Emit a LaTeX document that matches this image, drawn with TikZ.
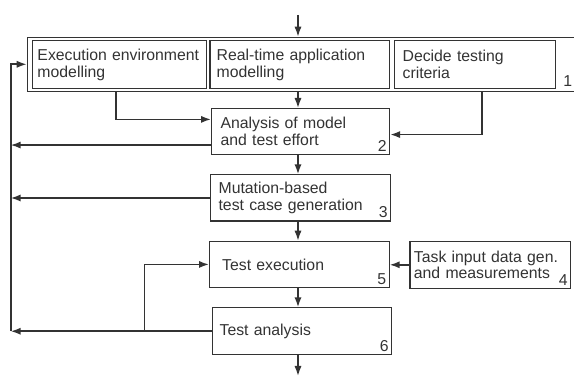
\documentclass[tikz,border=0pt]{standalone}
\usepackage{fontspec}
\setmainfont{Liberation Sans}
\usepackage{tikz}
\usetikzlibrary{calc,arrows.meta}

\tikzset{
  stage/.style={draw,anchor=north west,align=left,inner ysep=0pt,line width=0.6pt},
  num/.style={label={[anchor=south east,inner sep=1.6pt]south east:#1}},
  flow/.style={->,line width=0.8pt}
}

\begin{document}
\begin{tikzpicture}[>={Latex[length=5pt,width=3.6pt]},x=0.5pt,y=-0.5pt,
    black!80,font=\fontsize{7.9pt}{8.4pt}\selectfont]
  \useasboundingbox (0,0) rectangle (574,383);
  % modelling step, three parts in one frame
  \node[draw,line width=0.6pt,anchor=north west,inner sep=0pt,minimum width=274.65pt,
    minimum height=27pt,label={[anchor=south east,inner sep=2.3pt]south east:1}] (frame) at (26.7,36.7) {};
  \node[stage,text width=82pt,inner xsep=2.6pt,minimum height=24.15pt] (env) at (31.7,40)
    {Execution environment\\modelling};
  \node[stage,text width=83.05pt,inner xsep=3.4pt,minimum height=24.15pt] (app) at (209.3,40)
    {Real-time application\\modelling};
  \node[stage,text width=72.35pt,inner xsep=4pt,minimum height=24.15pt] (crit) at (394,40)
    {Decide testing\\criteria};
  % main column
  \node[stage,num=2,text width=80pt,inner xsep=4.5pt,minimum height=23.15pt] (an) at (211,108)
    {Analysis of model\\and test effort};
  \node[stage,num=3,text width=82pt,inner xsep=4pt,minimum height=23.1pt] (mb) at (210,174.3)
    {Mutation-based\\test case generation};
  \node[stage,num=5,text width=77.15pt,inner xsep=6.3pt,minimum height=23.15pt] (te) at (209,240.7)
    {Test execution};
  \node[stage,num=4,text width=76.35pt,inner xsep=2pt,minimum height=23.5pt] (ti) at (409.3,240.7)
    {Task input data gen.\\and measurements};
  \node[stage,num=6,text width=82.25pt,inner xsep=3.75pt,minimum height=23.35pt] (ta) at (211.5,307.3)
    {Test analysis};
  % helper coordinates
  \coordinate (in) at (298,15);
  \coordinate (out) at (298,376);
  \coordinate (rail) at (10.7,0);
  \coordinate (fork) at (144.3,0);
  \coordinate (edrop) at (115.7,0);
  \coordinate (cdrop) at (481.7,0);
  % straight down the middle
  \draw[flow] (in) -- (in |- frame.north);
  \draw[flow] (in |- frame.south) -- (in |- an.north);
  \draw[flow] (in |- an.south) -- (in |- mb.north);
  \draw[flow] (in |- mb.south) -- (in |- te.north);
  \draw[flow] (in |- te.south) -- (in |- ta.north);
  \draw[flow] (in |- ta.south) -- (out);
  % side inputs
  \draw[flow] (edrop |- frame.south) |- ($(an.north west)!0.24!(an.south west)$);
  \draw[flow] (cdrop |- frame.south) |- ($(an.north east)!0.56!(an.south east)$);
  \draw[flow] (ti.west) -- (ti.west -| te.east);
  % feedback to the left rail
  \draw[flow] ($(an.north west)!0.78!(an.south west)$) coordinate (anout) -- (anout -| rail);
  \draw[flow] (mb.west) -- (mb.west -| rail);
  \draw[flow] (ta.west) -- (ta.west -| rail);
  \draw[flow] (fork |- ta.west) |- (te.west);
  \draw[flow] (rail |- ta.west) |- (frame.west);
\end{tikzpicture}
\end{document}
